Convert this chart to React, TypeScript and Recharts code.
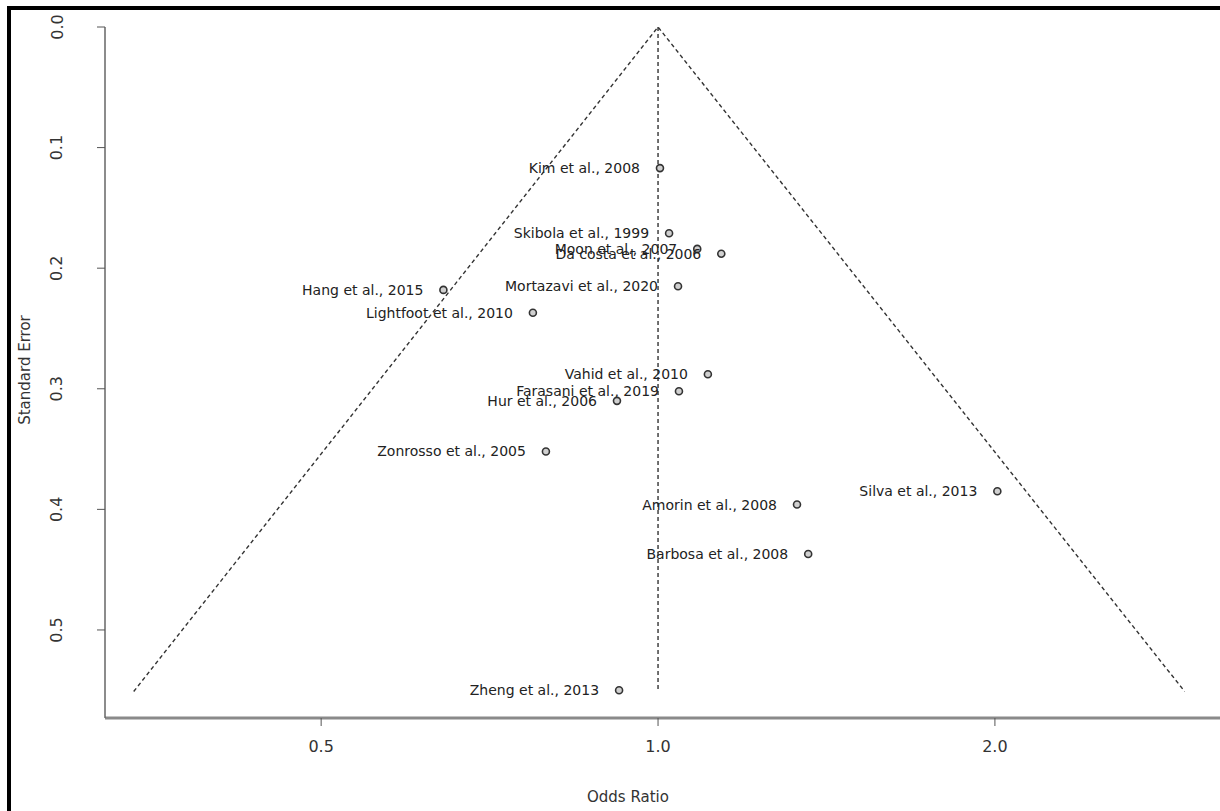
import React from 'react';
import {
  ComposedChart,
  Scatter,
  XAxis,
  YAxis,
  ReferenceLine,
} from 'recharts';

// studies
const studyNames = [
  'Kim et al., 2008',
  'Skibola et al., 1999',
  'Moon et al., 2007',
  'Da costa et al., 2006',
  'Mortazavi et al., 2020',
  'Hang et al., 2015',
  'Lightfoot et al., 2010',
  'Vahid et al., 2010',
  'Farasani et al., 2019',
  'Hur et al., 2006',
  'Zonrosso et al., 2005',
  'Silva et al., 2013',
  'Amorin et al., 2008',
  'Barbosa et al., 2008',
  'Zheng et al., 2013',
];
const studyOR = [1.004, 1.023, 1.084, 1.139, 1.042, 0.643, 0.773, 1.108, 1.044, 0.919, 0.794, 2.01, 1.331, 1.362, 0.923];
const studySE = [0.117, 0.171, 0.184, 0.188, 0.215, 0.218, 0.237, 0.288, 0.302, 0.31, 0.352, 0.385, 0.396, 0.437, 0.55];

// funnel outline (pseudo 95% limits) and centre line
const funnelOR = [0.34, 1.0, 2.955];
const funnelSE = [0.551, 0, 0.551];
const centreOR = 1.0;

const xTicks = [0.5, 1, 2];
const yTicks = [0, 0.1, 0.2, 0.3, 0.4, 0.5];

const studies = studyNames.map((name, i) => ({ name, or: studyOR[i], se: studySE[i] }));
const funnel = funnelOR.map((or, i) => ({ or, se: funnelSE[i] }));

const font = '"DejaVu Sans", sans-serif';

const StudyDot = (props: any) => {
  const { cx, cy, payload } = props;
  return (
    <g>
      <circle cx={cx} cy={cy} r={3.5} fill="#d0d0d0" stroke="#333" strokeWidth={1.6} />
      <text x={cx - 20} y={cy + 5} textAnchor="end" fontSize={14} fill="#222" fontFamily={font}>
        {payload.name}
      </text>
    </g>
  );
};

const YTick = (props: any) => {
  const { y, payload } = props;
  return (
    <text
      x={57}
      y={y}
      transform={`rotate(-90 57 ${y})`}
      textAnchor="middle"
      dominantBaseline="central"
      fontSize={16}
      fill="#333"
      fontFamily={font}
    >
      {payload.value.toFixed(1)}
    </text>
  );
};

const XTick = (props: any) => {
  const { x, payload } = props;
  return (
    <text x={x} y={752} textAnchor="middle" fontSize={16} fill="#333" fontFamily={font}>
      {payload.value.toFixed(1)}
    </text>
  );
};

export default function App() {
  return (
    <div style={{ position: 'absolute', left: 0, top: 0, width: 1220, height: 811, background: '#fff', overflow: 'hidden' }}>
      <div style={{ position: 'absolute', left: 7, top: 6, width: 1213, height: 4, background: '#000' }} />
      <div style={{ position: 'absolute', left: 7, top: 6, width: 4, height: 805, background: '#000' }} />
      <ComposedChart
        width={1220}
        height={811}
        margin={{ top: 27, right: 0, bottom: 33, left: 5 }}
        style={{ position: 'absolute', left: 0, top: 0 }}
      >
        <XAxis
          dataKey="or"
          type="number"
          scale="log"
          domain={[0.3205, 3.178]}
          allowDataOverflow
          ticks={xTicks}
          height={60}
          axisLine={{ stroke: '#8a8a8a', strokeWidth: 3 }}
          tickLine={{ stroke: '#555', strokeWidth: 1 }}
          tickSize={8}
          tick={<XTick />}
        />
        <YAxis
          dataKey="se"
          type="number"
          domain={[0, 0.573]}
          reversed
          allowDataOverflow
          ticks={yTicks}
          width={100}
          axisLine={{ stroke: '#666', strokeWidth: 1.5 }}
          tickLine={{ stroke: '#555', strokeWidth: 1 }}
          tickSize={8}
          tick={<YTick />}
        />
        <Scatter
          data={funnel}
          line={{ stroke: '#333', strokeWidth: 1.4, strokeDasharray: '4 3' }}
          shape={() => null}
          isAnimationActive={false}
        />
        <ReferenceLine
          segment={[{ x: centreOR, y: 0 }, { x: centreOR, y: funnelSE[0] }]}
          stroke="#333"
          strokeWidth={1.4}
          strokeDasharray="4 3"
        />
        <Scatter data={studies} shape={<StudyDot />} isAnimationActive={false} />
      </ComposedChart>
      <div
        style={{
          position: 'absolute',
          left: 25,
          top: 370,
          transform: 'translate(-50%, -50%) rotate(-90deg)',
          fontFamily: font,
          fontSize: 15,
          color: '#333',
          whiteSpace: 'nowrap',
        }}
      >
        Standard Error
      </div>
      <div
        style={{
          position: 'absolute',
          left: 628,
          top: 797,
          transform: 'translate(-50%, -50%)',
          fontFamily: font,
          fontSize: 15,
          color: '#333',
          whiteSpace: 'nowrap',
        }}
      >
        Odds Ratio
      </div>
    </div>
  );
}
